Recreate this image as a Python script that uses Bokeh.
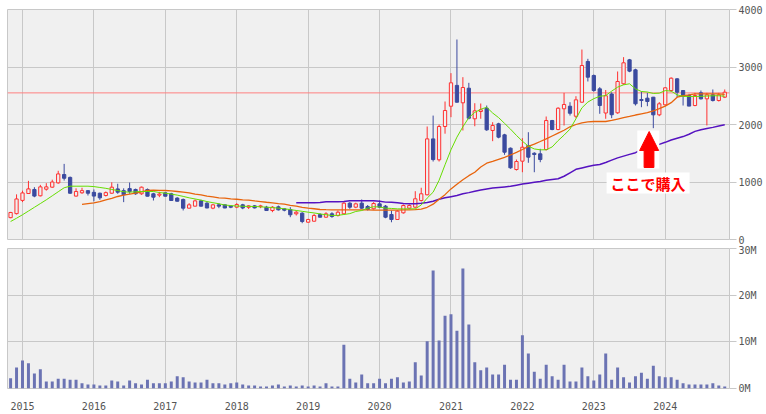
import math
from bokeh.plotting import figure
from bokeh.models import Range1d, FixedTicker, Span
from bokeh.layouts import column
from bokeh.core.properties import value
from bokeh.embed import file_html
from bokeh.resources import INLINE

# ---- data (monthly, Nov 2014 .. Nov 2024) ----
months = [f"{2014 + (10 + i) // 12}-{(10 + i) % 12 + 1:02d}" for i in range(121)]

opens = [380, 450, 680, 800, 870, 760, 875, 910, 985, 1130, 1080, 755, 812, 850, 820, 805, 765, 805, 880, 850,
         885, 870, 795, 870, 795, 771, 812, 795, 720, 696, 545, 580, 672, 632, 545, 603, 603, 580, 562, 603,
         560, 585, 570, 562, 504, 568, 533, 522, 447, 458, 301, 318, 435, 388, 447, 417, 447, 632, 562, 632,
         574, 534, 620, 580, 435, 348, 464, 545, 562, 678, 777, 1750, 1386, 1965, 2318, 2680, 2377, 2631, 2099, 2226,
         2283, 1896, 2012, 1820, 1588, 1217, 1362, 1635, 1500, 1490, 1565, 2069, 1913, 2273, 2318, 2144, 2388, 3096, 2852, 2620,
         2200, 2530, 2203, 2708, 3125, 2951, 2435, 2458, 2475, 2168, 2342, 2591, 2794, 2591, 2504, 2330, 2551, 2446, 2516, 2417,
         2475]
highs = [480, 785, 850, 1020, 910, 950, 980, 1040, 1195, 1315, 1095, 890, 900, 855, 870, 815, 835, 995, 970, 890,
         990, 885, 920, 887, 812, 830, 815, 812, 736, 713, 632, 696, 690, 650, 620, 632, 610, 590, 632, 620,
         600, 600, 603, 585, 580, 590, 545, 562, 504, 475, 360, 447, 458, 475, 475, 504, 650, 650, 640, 696,
         600, 650, 678, 600, 504, 510, 610, 610, 840, 900, 1965, 2155, 2000, 2400, 2893, 3478, 2823, 2725, 2370, 2365,
         2330, 2040, 2030, 1838, 1600, 1391, 1762, 1866, 1518, 1577, 2139, 2080, 2300, 2550, 2388, 2492, 3304, 3142, 2870, 2650,
         2600, 2560, 2922, 3171, 3140, 2970, 2574, 2551, 2480, 2390, 2650, 2820, 2805, 2600, 2533, 2550, 2591, 2550, 2609, 2550,
         2609]
lows = [370, 435, 650, 795, 735, 750, 850, 900, 970, 1025, 795, 748, 795, 765, 665, 690, 748, 795, 795, 650,
        795, 777, 777, 750, 678, 736, 750, 675, 660, 505, 540, 574, 574, 545, 527, 545, 545, 545, 545, 527,
        530, 540, 545, 500, 475, 504, 490, 388, 417, 283, 290, 313, 385, 377, 377, 400, 435, 533, 545, 533,
        504, 520, 545, 370, 300, 340, 450, 530, 545, 660, 770, 1356, 1356, 1840, 2127, 2380, 1896, 2090, 1970, 2100,
        1890, 1710, 1760, 1473, 1230, 1200, 1170, 1334, 1170, 1344, 1548, 1900, 1900, 1983, 2156, 2109, 2377, 2748, 2570, 2186,
        2100, 2110, 2186, 2690, 2910, 2330, 2301, 2318, 1936, 2145, 2330, 2570, 2475, 2330, 2318, 2318, 2435, 1983, 2400, 2400,
        2460]
closes = [470, 705, 810, 880, 755, 915, 915, 1000, 1140, 1065, 805, 835, 850, 805, 755, 725, 815, 910, 823, 778,
          835, 795, 910, 753, 736, 790, 753, 678, 666, 545, 603, 672, 580, 548, 603, 580, 548, 562, 609, 548,
          585, 550, 585, 504, 562, 516, 510, 430, 475, 313, 348, 417, 388, 447, 400, 475, 632, 562, 620, 545,
          522, 626, 562, 388, 348, 493, 591, 591, 708, 795, 1750, 1390, 1965, 2243, 2725, 2388, 2643, 2109, 2238, 2255,
          1907, 1983, 1780, 1518, 1247, 1356, 1605, 1432, 1478, 1391, 2069, 1913, 2283, 2348, 2196, 2429, 3026, 2823, 2591, 2330,
          2500, 2170, 2748, 3073, 2928, 2360, 2417, 2400, 2168, 2360, 2638, 2805, 2562, 2492, 2320, 2504, 2446, 2516, 2417, 2516,
          2562]
volume_m = [2.2, 4.5, 6.0, 5.4, 3.2, 4.1, 1.5, 1.5, 2.1, 2.1, 1.9, 1.9, 1.1, 0.86, 0.86, 0.64, 0.64, 1.7, 1.5, 0.64,
            1.7, 1.1, 0.86, 1.9, 1.1, 1.1, 1.1, 1.5, 2.6, 2.4, 1.5, 1.3, 1.3, 1.9, 1.1, 1.1, 0.86, 1.1, 1.3, 0.86,
            0.64, 0.64, 0.43, 0.43, 0.64, 0.86, 0.43, 0.64, 0.43, 0.64, 0.43, 0.64, 0.43, 1.1, 0.43, 0.43, 9.4, 2.1, 1.3, 3.0,
            1.1, 1.1, 2.1, 1.1, 2.1, 2.4, 1.3, 1.5, 5.6, 2.8, 10.1, 25.3, 10.3, 15.6, 15.9, 12.4, 25.7, 13.7, 5.6, 3.9,
            4.5, 3.0, 3.0, 5.1, 1.9, 1.9, 11.4, 7.5, 3.6, 2.1, 5.1, 2.6, 1.9, 5.1, 1.5, 1.5, 4.5, 2.6, 1.7, 3.0,
            7.5, 1.9, 4.5, 2.4, 1.3, 2.6, 3.4, 2.1, 4.9, 2.6, 2.4, 2.4, 1.9, 1.1, 0.86, 0.86, 0.86, 0.86, 1.1, 0.64,
            0.43]
ma_short = [313, 370, 430, 495, 560, 625, 690, 760, 830, 900, 927, 927, 927, 927, 920, 905, 890, 870, 852, 830,
            823, 830, 835, 835, 835, 817, 805, 790, 772, 750, 725, 705, 685, 660, 640, 622, 600, 590, 582, 578,
            575, 575, 568, 562, 555, 545, 535, 520, 505, 490, 475, 462, 445, 430, 418, 420, 435, 450, 487, 504,
            545, 570, 565, 545, 540, 533, 533, 533, 533, 600, 720, 823, 1030, 1300, 1560, 1780, 1960, 2120, 2210, 2265,
            2300, 2200, 2120, 2020, 1920, 1810, 1710, 1623, 1575, 1560, 1560, 1610, 1720, 1815, 1920, 2100, 2290, 2390, 2450, 2490,
            2504, 2580, 2650, 2690, 2708, 2620, 2574, 2565, 2540, 2545, 2590, 2580, 2516, 2490, 2487, 2487, 2490, 2495, 2500, 2500,
            2492]
ma_mid = [None] * 12 + [
    609, 625, 638, 660, 690, 715, 748, 770, 790, 805, 830, 855, 858, 855, 852, 845, 835, 825, 812, 790,
    777, 755, 740, 725, 718, 708, 700, 690, 685, 672, 660, 648, 638, 625, 614, 595, 580, 560, 545, 535,
    522, 518, 516, 516, 516, 516, 516, 516, 516, 512, 510, 510, 510, 512, 514, 516, 520, 530, 560, 615,
    700, 780, 880, 960, 1040, 1110, 1170, 1260, 1327, 1360, 1395, 1430, 1470, 1515, 1565, 1620, 1660, 1704, 1750, 1800,
    1850, 1900, 1960, 2000, 2030, 2045, 2052, 2052, 2052, 2070, 2095, 2120, 2140, 2165, 2185, 2205, 2235, 2275, 2320, 2380,
    2475, 2500, 2516, 2533, 2533, 2533, 2533, 2533, 2525]
ma_long = [None] * 48 + [
    638, 638, 638, 638, 645, 655, 655, 655, 660, 672, 672, 672, 672, 672, 665, 650, 649, 640, 625, 620,
    620, 630, 645, 665, 700, 725, 745, 765, 795, 815, 840, 862, 880, 895, 905, 915, 925, 945, 965, 980,
    995, 1010, 1030, 1045, 1056, 1100, 1160, 1220, 1245, 1270, 1290, 1304, 1340, 1380, 1420, 1450, 1480, 1510, 1560, 1600,
    1630, 1655, 1690, 1730, 1760, 1790, 1830, 1880, 1910, 1930, 1950, 1975, 1994]
price_ticks = [0, 1000, 2000, 3000, 4000]
volume_ticks = [0, 10, 20, 30]
volume_tick_labels = ["0M", "10M", "20M", "30M"]
reference_price = 2550
note_text = "ここで購入"

# ---- derived ----
idx = list(range(len(months)))
year_idx = [i for i, m in enumerate(months) if m.endswith("-01")]
year_labels = {i: months[i][:4] for i in year_idx}
nan = float("nan")
def clean(a):
    return [nan if v is None else v for v in a]

up = [i for i in idx if closes[i] >= opens[i]]
dn = [i for i in idx if closes[i] < opens[i]]

RED = "#ff3030"
BLUE = "#3b4a9f"
BG = "#f0f0f0"
GRID = "#c8c8c8"
FONT = "DejaVu Sans Mono"

x_range = Range1d(-0.52, 120.8)

def style(fig):
    fig.background_fill_color = BG
    fig.border_fill_color = "white"
    fig.outline_line_color = GRID
    fig.grid.grid_line_color = GRID
    fig.xgrid.ticker = FixedTicker(ticks=year_idx)
    fig.yaxis.axis_line_color = None
    fig.yaxis.major_tick_out = 7
    fig.yaxis.major_tick_in = 0
    fig.yaxis.major_tick_line_color = GRID
    fig.yaxis.minor_tick_line_color = None
    fig.yaxis.major_label_standoff = 2
    fig.yaxis.major_label_text_font = FONT
    fig.yaxis.major_label_text_font_size = "10px"
    fig.yaxis.major_label_text_color = "#555555"

p = figure(frame_width=722, frame_height=230, x_range=x_range, y_range=Range1d(0, 4000),
           y_axis_location="right", output_backend="svg", toolbar_location=None,
           min_border_left=7, min_border_top=9, min_border_bottom=5, min_border_right=0)
style(p)
p.xaxis.visible = False
p.xaxis.ticker = FixedTicker(ticks=year_idx)
p.ygrid.ticker = FixedTicker(ticks=price_ticks)
p.yaxis.ticker = FixedTicker(ticks=price_ticks)

p.add_layout(Span(location=reference_price, dimension="width", line_color="#ff8080",
                  line_width=1, level="underlay"))

# candles
p.segment(x0=[i for i in up], y0=[highs[i] for i in up], x1=[i for i in up], y1=[lows[i] for i in up],
          line_color=RED, line_width=1)
p.segment(x0=[i for i in dn], y0=[highs[i] for i in dn], x1=[i for i in dn], y1=[lows[i] for i in dn],
          line_color=BLUE, line_width=1)
p.vbar(x=up, width=0.55, top=[closes[i] for i in up], bottom=[opens[i] for i in up],
       fill_color=BG, line_color=RED, line_width=1)
p.vbar(x=dn, width=0.55, top=[opens[i] for i in dn], bottom=[closes[i] for i in dn],
       fill_color=BLUE, line_color=BLUE, line_width=1)

# moving averages
p.line(idx, clean(ma_long), line_color="#5512c0", line_width=1.5)
p.line(idx, clean(ma_mid), line_color="#e8640c", line_width=1.3)
p.line(idx, clean(ma_short), line_color="#66dd00", line_width=1)

# annotation: arrow + label
p.quad(left=[105.3], right=[109.0], bottom=[1235], top=[1896], fill_color="white", line_color=None)
p.patch(x=[107.3, 108.9, 108.1, 108.1, 106.45, 106.45, 105.7],
        y=[1878, 1548, 1548, 1252, 1252, 1548, 1548], fill_color="#ff0000", line_color="#ff0000")
p.quad(left=[100.15], right=[114.1], bottom=[800], top=[1165], fill_color="white", line_color=None)
p.text(x=[107.1], y=[982], text=[note_text], text_font=value("Noto Sans CJK JP"), text_font_size="15px",
       text_font_style="bold", text_color="#ff0000", text_align="center", text_baseline="middle")

# volume
p2 = figure(frame_width=722, frame_height=140, x_range=x_range, y_range=Range1d(0, 30),
            y_axis_location="right", output_backend="svg", toolbar_location=None,
            min_border_left=7, min_border_top=4, min_border_bottom=0, min_border_right=0)
style(p2)
p2.vbar(x=idx, width=0.5, top=volume_m, bottom=0, fill_color="#6b73b3", line_color=None)
p2.ygrid.ticker = FixedTicker(ticks=volume_ticks)
p2.yaxis.ticker = FixedTicker(ticks=volume_ticks)
p2.yaxis.major_label_overrides = dict(zip(volume_ticks, volume_tick_labels))
p2.xaxis.ticker = FixedTicker(ticks=year_idx)
p2.xaxis.major_label_overrides = year_labels
p2.xaxis.axis_line_color = None
p2.xaxis.major_tick_line_color = None
p2.xaxis.minor_tick_line_color = None
p2.xaxis.major_label_standoff = 7
p2.xaxis.major_label_text_font = FONT
p2.xaxis.major_label_text_font_size = "10px"
p2.xaxis.major_label_text_color = "#555555"

layout = column(p, p2)
open("out.html", "w").write(file_html(layout, INLINE))
